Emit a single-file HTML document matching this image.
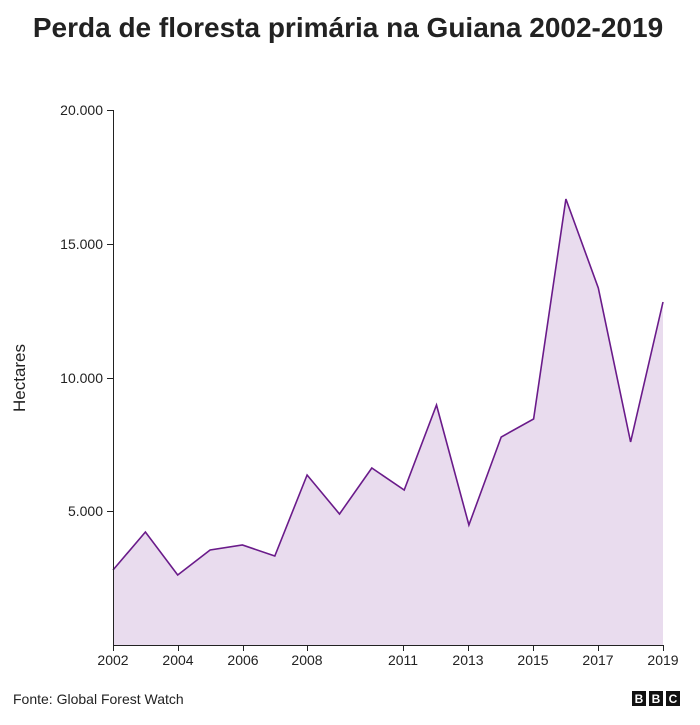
<!DOCTYPE html>
<html><head><meta charset="utf-8"><style>
body{margin:0;background:#fff;width:700px;height:720px;overflow:hidden;font-family:"Liberation Sans",Arial,sans-serif}
</style></head><body>
<svg width="700" height="720" xmlns="http://www.w3.org/2000/svg" font-family="Liberation Sans, Arial, sans-serif">
<text x="348" y="37" text-anchor="middle" font-size="28" font-weight="bold" fill="#222">Perda de floresta primária na Guiana 2002-2019</text>
<polygon fill="#e9dcee" points="113,645 113,570 145.4,532 177.7,575 210.1,550 242.4,545 274.8,556 307.1,475 339.5,514 371.8,468 404.2,490 436.5,405 468.9,525 501.2,437 533.6,419 565.9,199 598.3,288 630.6,442 663,302 663,645"/>
<polyline fill="none" stroke="#6a1b8a" stroke-width="1.6" points="113,570 145.4,532 177.7,575 210.1,550 242.4,545 274.8,556 307.1,475 339.5,514 371.8,468 404.2,490 436.5,405 468.9,525 501.2,437 533.6,419 565.9,199 598.3,288 630.6,442 663,302"/>
<g stroke="#222" stroke-width="1" fill="none">
<path d="M113.5,110V645.5H663.5"/>
<path d="M107,110.5H113M107,244.5H113M107,378.5H113M107,511.5H113"/>
<path d="M113.5,645V651M178.5,645V651M243.5,645V651M307.5,645V651M403.5,645V651M468.5,645V651M533.5,645V651M598.5,645V651M663.5,645V651"/>
</g>
<g font-size="14" fill="#222" text-anchor="end">
<text x="103" y="115">20.000</text>
<text x="103" y="249">15.000</text>
<text x="103" y="383">10.000</text>
<text x="103" y="516">5.000</text>
</g>
<g font-size="14" fill="#222" text-anchor="middle">
<text x="113" y="665">2002</text><text x="178" y="665">2004</text><text x="243" y="665">2006</text><text x="307" y="665">2008</text><text x="403" y="665">2011</text><text x="468" y="665">2013</text><text x="533" y="665">2015</text><text x="598" y="665">2017</text><text x="663" y="665">2019</text>
</g>
<text transform="translate(25,378) rotate(-90)" text-anchor="middle" font-size="17" fill="#222">Hectares</text>
<text x="13" y="704" font-size="14" fill="#222">Fonte: Global Forest Watch</text>
<g fill="#111"><rect x="632" y="691" width="14" height="15"/><rect x="649" y="691" width="14" height="15"/><rect x="666" y="691" width="14" height="15"/></g>
<g fill="#fff" font-size="12" font-weight="bold" text-anchor="middle"><text x="639" y="703">B</text><text x="656" y="703">B</text><text x="673" y="703">C</text></g>
</svg>
</body></html>
